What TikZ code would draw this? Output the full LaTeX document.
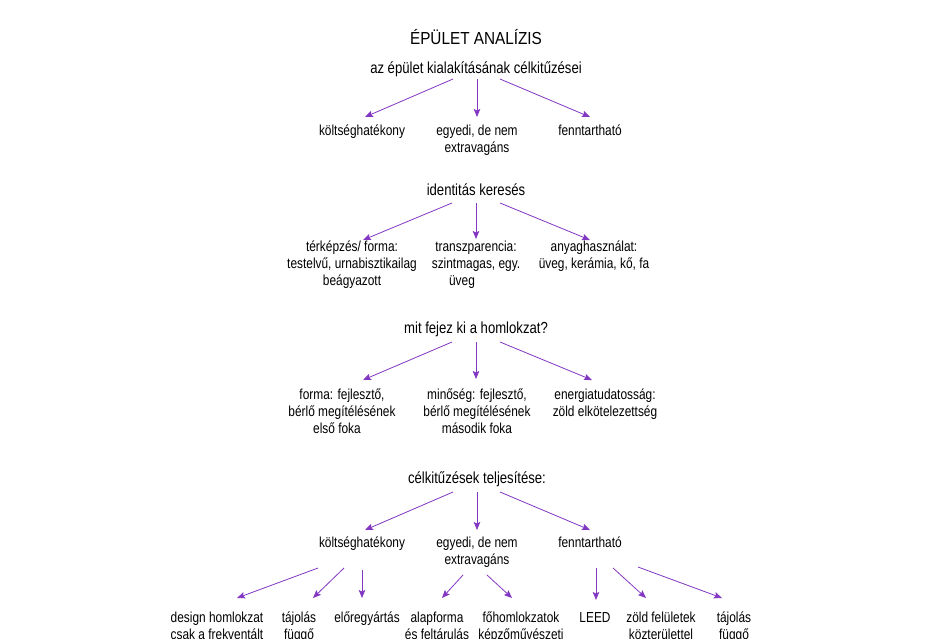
\documentclass[tikz,border=0pt]{standalone}
\usepackage{fontspec}
\setmainfont{Liberation Sans}[FakeStretch=0.82]
\newfontfamily\titlefont{Liberation Sans}[FakeStretch=0.88]
\usetikzlibrary{arrows.meta}
\definecolor{arrowviolet}{RGB}{130,55,195}
\newcommand{\mlines}[1]{\begin{tabular}[t]{@{}c@{}}#1\end{tabular}}
\begin{document}
\begin{tikzpicture}[x=1pt,y=-1pt,
  lbl/.style={anchor=base, inner sep=0pt, font=\fontsize{14.5}{17.3}\selectfont},
  head/.style={anchor=base, inner sep=0pt, font=\fontsize{16}{18}\selectfont},
  ttl/.style={anchor=base, inner sep=0pt, font=\titlefont\fontsize{17.4}{20}\selectfont},
  arr/.style={draw=arrowviolet, line width=0.8pt, -{Stealth[length=8pt,width=6.5pt,inset=1.5pt]}}]
\path[use as bounding box] (0,0) rectangle (952,638);
\clip (0,0) rectangle (952,638);
\fill[white] (0,0) rectangle (952,638);

% title
\node[ttl] (title) at (476,44) {ÉPÜLET ANALÍZIS};

% level 1
\node[head] (goals) at (476,73) {az épület kialakításának célkitűzései};
\node[lbl] (g1) at (362,135) {költséghatékony};
\node[lbl] (g2) at (477,135) {\mlines{egyedi, de nem\\extravagáns}};
\node[lbl] (g3) at (590,135) {fenntartható};
\draw[arr] ([shift={(-23,6)}]goals.base) -- ([shift={(3,-18)}]g1.base);
\draw[arr] ([shift={(1,6)}]goals.base) -- ([shift={(0,-18)}]g2.base);
\draw[arr] ([shift={(24,6)}]goals.base) -- ([shift={(0,-18)}]g3.base);

% level 2
\node[head] (ident) at (476,195) {identitás keresés};
\node[lbl] (i1) at (352,251) {\mlines{térképzés/ forma:\\testelvű, urnabisztikailag\\beágyazott}};
\node[lbl] (i2) at (476,251) {\mlines{transzparencia:\\szintmagas, egy.\\üveg\hspace*{28pt}}};
\node[lbl] (i3) at (594,251) {\mlines{anyaghasználat:\\üveg, kerámia, kő, fa}};
\draw[arr] ([shift={(-24,8)}]ident.base) -- ([shift={(11,-11)}]i1.base);
\draw[arr] ([shift={(0,8)}]ident.base) -- ([shift={(0,-12)}]i2.base);
\draw[arr] ([shift={(24,8)}]ident.base) -- ([shift={(-4,-11)}]i3.base);

% level 3
\node[head] (facade) at (476,333) {mit fejez ki a homlokzat?};
\node[lbl] (q1) at (342,399) {\mlines{forma: fejlesztő,\\bérlő megítélésének\\első foka\hspace*{10pt}}};
\node[lbl] (q2) at (477,399) {\mlines{minőség: fejlesztő,\\bérlő megítélésének\\második foka}};
\node[lbl] (q3) at (605,399) {\mlines{energiatudatosság:\\zöld elkötelezettség}};
\draw[arr] ([shift={(-24,9)}]facade.base) -- ([shift={(21,-19)}]q1.base);
\draw[arr] ([shift={(0,9)}]facade.base) -- ([shift={(-1,-20)}]q2.base);
\draw[arr] ([shift={(24,9)}]facade.base) -- ([shift={(-13,-19)}]q3.base);

% level 4
\node[head] (fulfil) at (477,483) {célkitűzések teljesítése:};
\node[lbl] (f1) at (362,547) {költséghatékony};
\node[lbl] (f2) at (477,547) {\mlines{egyedi, de nem\\extravagáns}};
\node[lbl] (f3) at (590,547) {fenntartható};
\draw[arr] ([shift={(-24,9)}]fulfil.base) -- ([shift={(3,-17)}]f1.base);
\draw[arr] ([shift={(0,9)}]fulfil.base) -- ([shift={(0,-17)}]f2.base);
\draw[arr] ([shift={(23,9)}]fulfil.base) -- ([shift={(0,-17)}]f3.base);

% level 5 (the reference is cut off at its lower edge)
\node[lbl] (d1) at (217,622) {\mlines{design homlokzat\\csak a frekventált}};
\node[lbl] (d2) at (299,622) {\mlines{tájolás\\függő}};
\node[lbl] (d3) at (367,622) {előregyártás};
\node[lbl] (d4) at (437,622) {\mlines{alapforma\\és feltárulás}};
\node[lbl] (d5) at (521,622) {\mlines{főhomlokzatok\\képzőművészeti}};
\node[lbl] (d6) at (595,622) {LEED};
\node[lbl] (d7) at (661,622) {\mlines{zöld felületek\\közterülettel}};
\node[lbl] (d8) at (734,622) {\mlines{tájolás\\függő}};
\draw[arr] ([shift={(-44,21)}]f1.base) -- ([shift={(20,-24)}]d1.base);
\draw[arr] ([shift={(-18,21)}]f1.base) -- ([shift={(14,-24)}]d2.base);
\draw[arr] ([shift={(0,23)}]f1.base) -- ([shift={(-5,-24)}]d3.base);
\draw[arr] ([shift={(-14,28)}]f2.base) -- ([shift={(5,-24)}]d4.base);
\draw[arr] ([shift={(10,28)}]f2.base) -- ([shift={(-9,-24)}]d5.base);
\draw[arr] ([shift={(6,21)}]f3.base) -- ([shift={(1,-22)}]d6.base);
\draw[arr] ([shift={(23,21)}]f3.base) -- ([shift={(-15,-24)}]d7.base);
\draw[arr] ([shift={(48,20)}]f3.base) -- ([shift={(-12,-24)}]d8.base);
\end{tikzpicture}
\end{document}
